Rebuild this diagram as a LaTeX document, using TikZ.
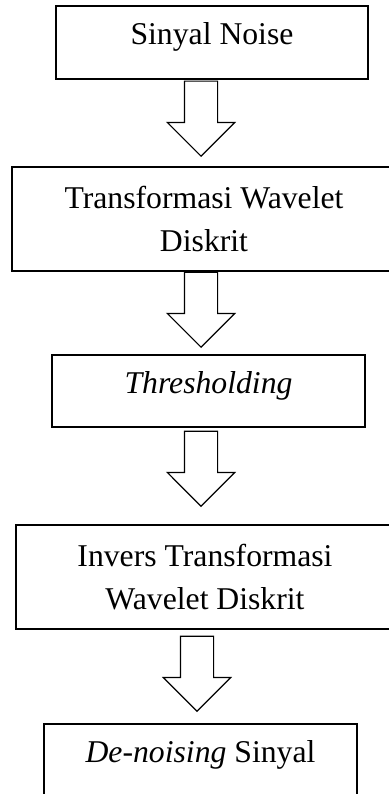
\documentclass[tikz,border=0pt]{standalone}
\usepackage{fontspec}
\setmainfont{Liberation Serif}
\usetikzlibrary{shapes.arrows}

\begin{document}
\begin{tikzpicture}[x=1pt, y=-1pt,
    kotak/.style={draw, rectangle, line width=1.2pt, inner sep=0pt, align=center, font=\fontsize{31.7}{43}\selectfont},
    satubaris/.style={text height=22pt, text depth=17pt},
    panah/.style={draw, single arrow, shape border rotate=270, line width=1.2pt, minimum height=75pt, minimum width=66pt, single arrow head extend=17pt, inner sep=16pt, anchor=tip}
]
\useasboundingbox (0,0) rectangle (388,794);

% Kotak proses
\node[kotak, satubaris, minimum width=312pt, minimum height=73pt] (sinyal) at (212,42.5) {Sinyal Noise};
\node[kotak, minimum width=384pt, minimum height=104pt] (dwt) at (204,219) {Transformasi Wavelet\\Diskrit};
\node[kotak, satubaris, minimum width=313pt, minimum height=72pt] (thres) at (208.5,391) {\textit{Thresholding}};
\node[kotak, minimum width=378pt, minimum height=104pt] (idwt) at (205,577) {Invers Transformasi\\Wavelet Diskrit};
\node[kotak, satubaris, minimum width=313pt, minimum height=72pt] (denoise) at (200.5,760) {\textit{De-noising} Sinyal};

% Panah blok (ujung di atas kotak berikutnya)
\node[panah] (p1) at (201,157) {};
\node[panah] (p2) at (201,348) {};
\node[panah] (p3) at (201,507) {};
\node[panah] (p4) at (197,712) {};

\end{tikzpicture}
\end{document}
